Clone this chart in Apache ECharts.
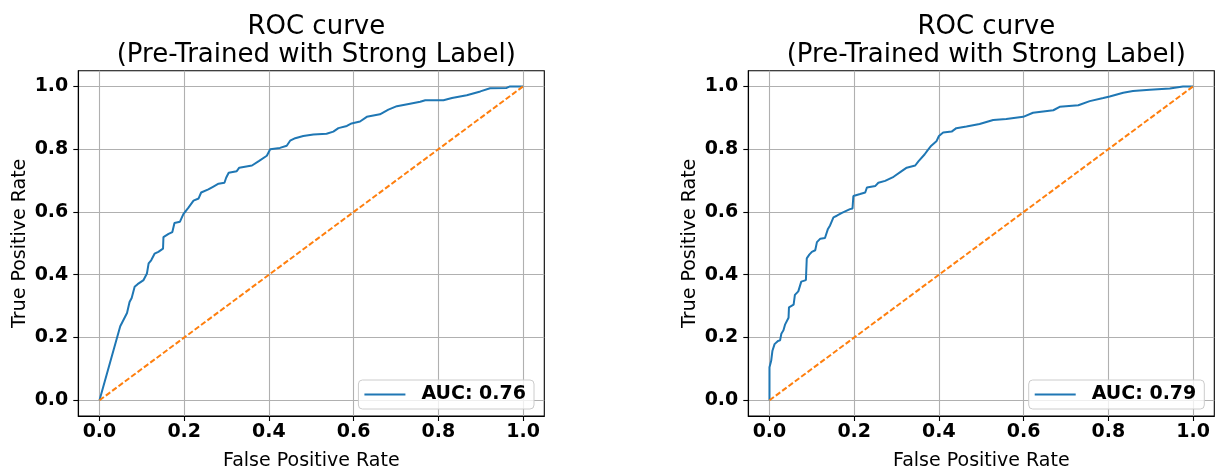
<!DOCTYPE html>
<html>
<head>
<meta charset="utf-8">
<script src="https://cdn.jsdelivr.net/npm/echarts@6/dist/echarts.min.js"></script>
<style>
html,body{margin:0;padding:0;background:#fff;}
#chart{width:1217px;height:476px;}
</style>
</head>
<body>
<div id="chart"></div>
<script>
// ---- data ----
const titleText = 'ROC curve\n(Pre-Trained with Strong Label)';
const xAxisName = 'False Positive Rate';
const yAxisName = 'True Positive Rate';
const tickValues = [0, 0.2, 0.4, 0.6, 0.8, 1.0];

const leftName = 'AUC: 0.76';
const leftFpr = [0, 0.049, 0.065, 0.071, 0.076, 0.083, 0.09, 0.104, 0.112, 0.116, 0.122, 0.13, 0.139, 0.15, 0.151, 0.163, 0.172, 0.177, 0.19, 0.198, 0.21, 0.222, 0.234, 0.24, 0.257, 0.269, 0.281, 0.295, 0.299, 0.305, 0.324, 0.33, 0.36, 0.376, 0.395, 0.403, 0.426, 0.442, 0.45, 0.462, 0.481, 0.505, 0.536, 0.552, 0.564, 0.584, 0.595, 0.615, 0.631, 0.662, 0.682, 0.702, 0.733, 0.757, 0.769, 0.812, 0.832, 0.867, 0.899, 0.922, 0.961, 0.969, 1.0];
const leftTpr = [0, 0.236, 0.278, 0.313, 0.326, 0.362, 0.37, 0.383, 0.404, 0.436, 0.446, 0.467, 0.473, 0.483, 0.52, 0.53, 0.536, 0.565, 0.569, 0.593, 0.614, 0.636, 0.643, 0.662, 0.672, 0.681, 0.69, 0.693, 0.709, 0.725, 0.73, 0.741, 0.748, 0.762, 0.779, 0.8, 0.804, 0.811, 0.827, 0.835, 0.842, 0.847, 0.849, 0.856, 0.867, 0.874, 0.882, 0.888, 0.903, 0.911, 0.926, 0.937, 0.945, 0.951, 0.956, 0.956, 0.963, 0.972, 0.984, 0.994, 0.995, 1.0, 1.0];

const rightName = 'AUC: 0.79';
const rightFpr = [0, 0, 0.004, 0.007, 0.012, 0.02, 0.025, 0.028, 0.033, 0.037, 0.045, 0.046, 0.057, 0.06, 0.068, 0.075, 0.086, 0.088, 0.094, 0.1, 0.108, 0.112, 0.12, 0.131, 0.138, 0.143, 0.151, 0.159, 0.171, 0.19, 0.196, 0.198, 0.214, 0.226, 0.23, 0.25, 0.257, 0.273, 0.293, 0.312, 0.324, 0.344, 0.352, 0.366, 0.374, 0.382, 0.394, 0.4, 0.41, 0.43, 0.441, 0.465, 0.496, 0.528, 0.559, 0.599, 0.622, 0.67, 0.685, 0.729, 0.756, 0.788, 0.803, 0.835, 0.858, 0.898, 0.945, 0.976, 1.0];
const rightTpr = [0, 0.105, 0.126, 0.158, 0.179, 0.189, 0.191, 0.212, 0.223, 0.242, 0.263, 0.296, 0.305, 0.336, 0.347, 0.378, 0.383, 0.452, 0.464, 0.473, 0.478, 0.504, 0.515, 0.517, 0.546, 0.557, 0.583, 0.588, 0.597, 0.609, 0.611, 0.651, 0.657, 0.662, 0.678, 0.683, 0.693, 0.699, 0.712, 0.73, 0.741, 0.748, 0.762, 0.783, 0.798, 0.811, 0.825, 0.842, 0.853, 0.856, 0.867, 0.872, 0.88, 0.893, 0.896, 0.903, 0.916, 0.924, 0.935, 0.94, 0.953, 0.963, 0.968, 0.98, 0.985, 0.989, 0.993, 1.0, 1.0];

const chanceX = [0, 1];
const chanceY = [0, 1];

// ---- chart ----
const FONT = 'DejaVu Sans';
const pairs = (xs, ys) => xs.map((x, i) => [x, ys[i]]);
const chart = echarts.init(document.getElementById('chart'), null, {renderer: 'canvas'});

const gridLefts = [78.3, 748.3];
const gridW = 466, gridTop = 70.7, gridH = 348.6;

function xAxisFor(i) {
  return {
    type: 'value', gridIndex: i, min: -0.05, max: 1.05,
    name: xAxisName, nameLocation: 'middle', nameGap: 36,
    nameTextStyle: {fontFamily: FONT, fontSize: 19, color: '#000'},
    axisLine: {show: true, onZero: false, lineStyle: {color: '#000', width: 1.1}},
    axisTick: {show: true, length: 5, inside: false, customValues: tickValues, lineStyle: {color: '#000', width: 1.1}},
    axisLabel: {customValues: tickValues, formatter: v => v.toFixed(1), margin: 7,
      fontFamily: FONT, fontSize: 19, fontWeight: 'bold', color: '#000'},
    splitLine: {show: true, lineStyle: {color: '#b0b0b0', width: 1.1}}
  };
}
function yAxisFor(i) {
  return {
    type: 'value', gridIndex: i, min: -0.05, max: 1.05,
    name: yAxisName, nameLocation: 'middle', nameGap: 49, nameRotate: 90,
    nameTextStyle: {fontFamily: FONT, fontSize: 19, color: '#000'},
    axisLine: {show: true, onZero: false, lineStyle: {color: '#000', width: 1.1}},
    axisTick: {show: true, length: 5, inside: false, customValues: tickValues, lineStyle: {color: '#000', width: 1.1}},
    axisLabel: {customValues: tickValues, formatter: v => v.toFixed(1), margin: 10,
      fontFamily: FONT, fontSize: 19, fontWeight: 'bold', color: '#000'},
    splitLine: {show: true, lineStyle: {color: '#b0b0b0', width: 1.1}}
  };
}
function legendFor(name, right) {
  return {
    data: [name], right: right, bottom: 67, orient: 'vertical',
    backgroundColor: 'rgba(255,255,255,0.8)', borderColor: '#cccccc', borderWidth: 1, borderRadius: 4,
    padding: [5, 8, 5, 6], icon: 'rect', itemWidth: 41, itemHeight: 2,
    textStyle: {fontFamily: FONT, fontSize: 19, fontWeight: 'bold', color: '#000', padding: [0, 0, 0, 11]}
  };
}

chart.setOption({
  animation: false,
  backgroundColor: '#fff',
  title: [0, 1].map(i => ({
    text: titleText, left: gridLefts[i] + gridW / 2, top: 8, textAlign: 'center',
    textStyle: {fontFamily: FONT, fontSize: 26, fontWeight: 'normal', color: '#000', lineHeight: 28}
  })),
  grid: [0, 1].map(i => ({left: gridLefts[i], top: gridTop, width: gridW, height: gridH,
    show: true, borderColor: '#000', borderWidth: 1.1, backgroundColor: 'transparent', containLabel: false})),
  xAxis: [xAxisFor(0), xAxisFor(1)],
  yAxis: [yAxisFor(0), yAxisFor(1)],
  legend: [legendFor(leftName, 1217 - 534), legendFor(rightName, 1217 - 1204.3)],
  series: [
    {name: leftName, type: 'line', xAxisIndex: 0, yAxisIndex: 0, data: pairs(leftFpr, leftTpr),
      symbol: 'none', color: '#1f77b4', lineStyle: {width: 2, color: '#1f77b4'}, z: 3},
    {name: 'chance-left', type: 'line', xAxisIndex: 0, yAxisIndex: 0, data: pairs(chanceX, chanceY),
      symbol: 'none', color: '#ff7f0e', lineStyle: {width: 2, color: '#ff7f0e', type: [5.5, 2.4]}, z: 4},
    {name: rightName, type: 'line', xAxisIndex: 1, yAxisIndex: 1, data: pairs(rightFpr, rightTpr),
      symbol: 'none', color: '#1f77b4', lineStyle: {width: 2, color: '#1f77b4'}, z: 3},
    {name: 'chance-right', type: 'line', xAxisIndex: 1, yAxisIndex: 1, data: pairs(chanceX, chanceY),
      symbol: 'none', color: '#ff7f0e', lineStyle: {width: 2, color: '#ff7f0e', type: [5.5, 2.4]}, z: 4}
  ]
});
</script>
</body>
</html>
